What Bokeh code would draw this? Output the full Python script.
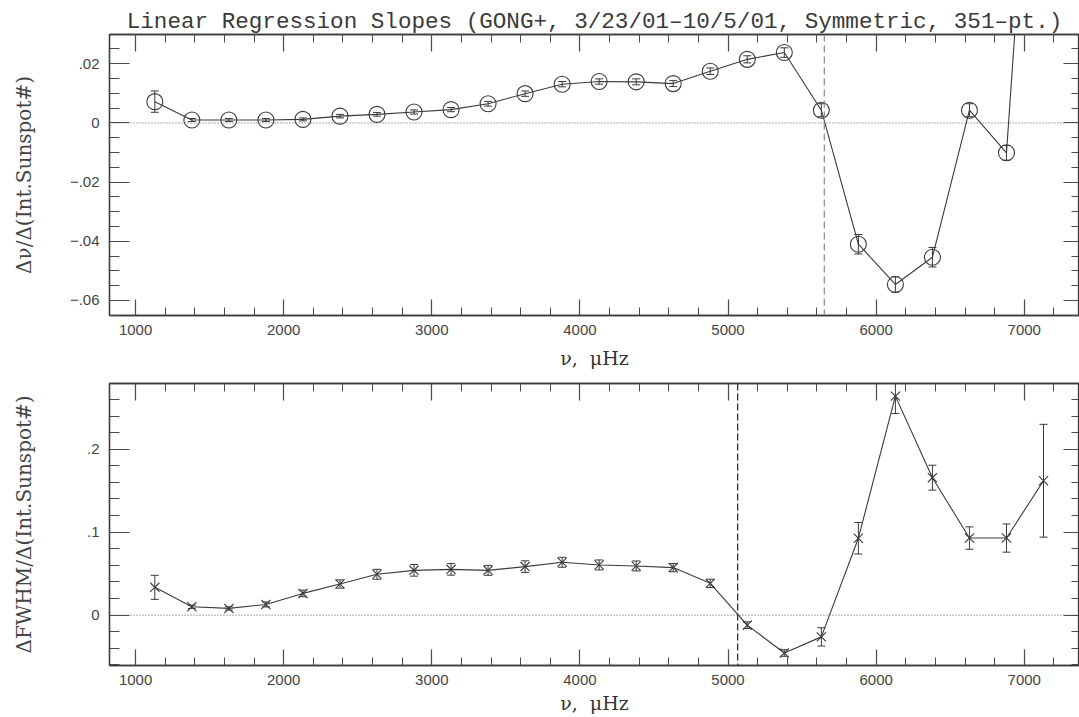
from bokeh.plotting import figure
from bokeh.layouts import column
from bokeh.models import (Range1d, LinearAxis, SingleIntervalTicker, CustomJSTickFormatter,
                          Span, Whisker, TeeHead, ColumnDataSource)
from bokeh.embed import file_html
from bokeh.resources import INLINE

# ---------------- data ----------------
freq = [1130, 1380, 1630, 1880, 2130, 2380, 2630, 2880, 3130, 3380, 3630, 3880, 4130,
        4380, 4630, 4880, 5130, 5380, 5630, 5880, 6130, 6380, 6630, 6880, 7130]

dnu_slope = [0.0072, 0.0010, 0.0010, 0.0010, 0.0012, 0.0023, 0.0029, 0.0037, 0.0045,
             0.0065, 0.0099, 0.0131, 0.0140, 0.0139, 0.0133, 0.0175, 0.0215, 0.0238,
             0.0043, -0.0410, -0.0546, -0.0454, 0.0043, -0.0101, 0.170]
dnu_err = [0.0036, 0.0005, 0.0005, 0.0005, 0.0005, 0.0006, 0.0006, 0.0007, 0.0007,
           0.0008, 0.0009, 0.0009, 0.0009, 0.0010, 0.0010, 0.0011, 0.0012, 0.0016,
           0.0022, 0.0033, 0.0026, 0.0033, 0.0022, 0.0025, 0.0050]

dfwhm_slope = [0.0335, 0.0101, 0.0081, 0.0129, 0.0262, 0.0375, 0.0492, 0.0540, 0.0552,
               0.0540, 0.0585, 0.0637, 0.0605, 0.0593, 0.0573, 0.0383, -0.0121, -0.0456,
               -0.0262, 0.0927, 0.2640, 0.1657, 0.0929, 0.0929, 0.1620]
dfwhm_err = [0.0145, 0.0020, 0.0020, 0.0030, 0.0040, 0.0050, 0.0060, 0.0070, 0.0070,
             0.0060, 0.0070, 0.0060, 0.0060, 0.0060, 0.0050, 0.0050, 0.0040, 0.0040,
             0.0110, 0.0190, 0.0210, 0.0150, 0.0135, 0.0170, 0.0680]

nu_cut_top = 5650
nu_cut_bottom = 5065

title_text = "Linear Regression Slopes (GONG+, 3/23/01\u201310/5/01, Symmetric, 351\u2013pt.)"
ylabel_top = "\u0394\u03bd/\u0394(Int.Sunspot#)"
ylabel_bottom = "\u0394FWHM/\u0394(Int.Sunspot#)"
xlabel = "\u03bd,\u00a0\u00a0\u03bcHz"

# ---------------- styling ----------------
INK = "#3a3a3a"
TICK_INK = "#4a4a4a"
LABEL_INK = "#444444"
W = 1079
LEFT = 109
X_RANGE = (824, 7373)
TICK_FONT = "Liberation Sans"
SERIF = "DejaVu Serif"


def x_ticker():
    return SingleIntervalTicker(interval=1000, num_minor_ticks=5)


def y_fmt(decimals):
    return CustomJSTickFormatter(args=dict(d=decimals), code="""
        if (Math.abs(tick) < 1e-9) { return "0"; }
        const s = Math.abs(tick).toFixed(d).replace(/^0/, "");
        return (tick < 0 ? "\u2212" : "") + s;
    """)


def blank_fmt():
    return CustomJSTickFormatter(code='return "";')


def style_axis(ax, major_in, minor_in, labels=True):
    ax.major_tick_in = major_in
    ax.major_tick_out = 0
    ax.minor_tick_in = minor_in
    ax.minor_tick_out = 0
    ax.axis_line_color = INK
    ax.axis_line_width = 1.3
    ax.major_tick_line_color = TICK_INK
    ax.minor_tick_line_color = TICK_INK
    ax.major_tick_line_width = 1.2
    ax.minor_tick_line_width = 1.0
    if labels:
        ax.major_label_text_font = TICK_FONT
        ax.major_label_text_font_size = "15px"
        ax.major_label_text_color = LABEL_INK
    else:
        ax.major_label_text_font_size = "1px"
        ax.major_label_standoff = 0


def make_panel(height, top, bottom, yr, y_interval, y_minor, y_dec, ylabel, ylab_standoff,
               xlab_standoff):
    p = figure(width=W, height=height, x_range=Range1d(*X_RANGE), y_range=Range1d(*yr),
               output_backend="svg", toolbar_location=None,
               x_axis_location=None, y_axis_location=None,
               min_border_left=LEFT, min_border_right=0,
               min_border_top=top, min_border_bottom=bottom)
    p.grid.visible = False
    p.outline_line_color = INK
    p.outline_line_width = 1.3
    p.background_fill_color = "white"
    p.border_fill_color = "white"

    bx = LinearAxis(ticker=x_ticker(),
                    formatter=CustomJSTickFormatter(code="return tick.toFixed(0);"))
    style_axis(bx, 16, 8)
    bx.major_label_standoff = 9
    bx.axis_label = xlabel
    bx.axis_label_text_font = SERIF
    bx.axis_label_text_font_size = "19px"
    bx.axis_label_text_font_style = "normal"
    bx.axis_label_text_color = "#333333"
    bx.axis_label_standoff = xlab_standoff
    p.add_layout(bx, "below")

    tx = LinearAxis(ticker=x_ticker(), formatter=blank_fmt())
    style_axis(tx, 17, 8, labels=False)
    p.add_layout(tx, "above")

    ly = LinearAxis(ticker=SingleIntervalTicker(interval=y_interval, num_minor_ticks=y_minor),
                    formatter=y_fmt(y_dec))
    style_axis(ly, 20, 10)
    ly.major_label_standoff = 10
    ly.axis_label = ylabel
    ly.axis_label_text_font = SERIF
    ly.axis_label_text_font_size = "20px"
    ly.axis_label_text_font_style = "normal"
    ly.axis_label_text_color = LABEL_INK
    ly.axis_label_standoff = ylab_standoff
    p.add_layout(ly, "left")

    ry = LinearAxis(ticker=SingleIntervalTicker(interval=y_interval, num_minor_ticks=y_minor),
                    formatter=blank_fmt())
    style_axis(ry, 16, 8, labels=False)
    p.add_layout(ry, "right")

    p.add_layout(Span(location=0, dimension="width", line_color="#555555",
                      line_width=1, line_dash="1 2"))
    return p


# ---------------- top panel ----------------
p1 = make_panel(372, 34, 57, (-0.0651, 0.0299), 0.02, 4, 2, ylabel_top, 31, 9)
p1.title.text = title_text
p1.title.text_font = "Liberation Mono"
p1.title.text_font_size = "22.6px"
p1.title.text_font_style = "normal"
p1.title.text_color = "#3a3a3a"
p1.title.align = "center"
p1.title.standoff = 0
p1.add_layout(Span(location=nu_cut_top, dimension="height", line_color="#8a8a8a",
                   line_width=1.2, line_dash="7 4"))
src1 = ColumnDataSource(dict(
    x=freq, y=dnu_slope,
    lower=[v - e for v, e in zip(dnu_slope, dnu_err)],
    upper=[v + e for v, e in zip(dnu_slope, dnu_err)]))
p1.line("x", "y", source=src1, line_color=INK, line_width=1.1)
p1.add_layout(Whisker(source=src1, base="x", upper="upper", lower="lower", dimension="height",
                      line_color=INK, line_width=1,
                      upper_head=TeeHead(size=8, line_color=INK, line_width=1),
                      lower_head=TeeHead(size=8, line_color=INK, line_width=1)))
p1.scatter("x", "y", source=src1, marker="circle", size=16, fill_alpha=0,
           line_color=INK, line_width=1.1)

# ---------------- bottom panel ----------------
p2 = make_panel(345, 11, 52, (-0.0607, 0.2792), 0.1, 5, 1, ylabel_bottom, 48, 4)
p2.add_layout(Span(location=nu_cut_bottom, dimension="height", line_color="#333333",
                   line_width=1.3, line_dash="7 3"))
src2 = ColumnDataSource(dict(
    x=freq, y=dfwhm_slope,
    lower=[v - e for v, e in zip(dfwhm_slope, dfwhm_err)],
    upper=[v + e for v, e in zip(dfwhm_slope, dfwhm_err)]))
p2.line("x", "y", source=src2, line_color=INK, line_width=1.1)
p2.add_layout(Whisker(source=src2, base="x", upper="upper", lower="lower", dimension="height",
                      line_color=INK, line_width=1,
                      upper_head=TeeHead(size=8, line_color=INK, line_width=1),
                      lower_head=TeeHead(size=8, line_color=INK, line_width=1)))
p2.scatter("x", "y", source=src2, marker="x", size=13, line_color=INK, line_width=1.1)

layout = column(p1, p2, spacing=0)
open("out.html", "w").write(file_html(layout, INLINE))
